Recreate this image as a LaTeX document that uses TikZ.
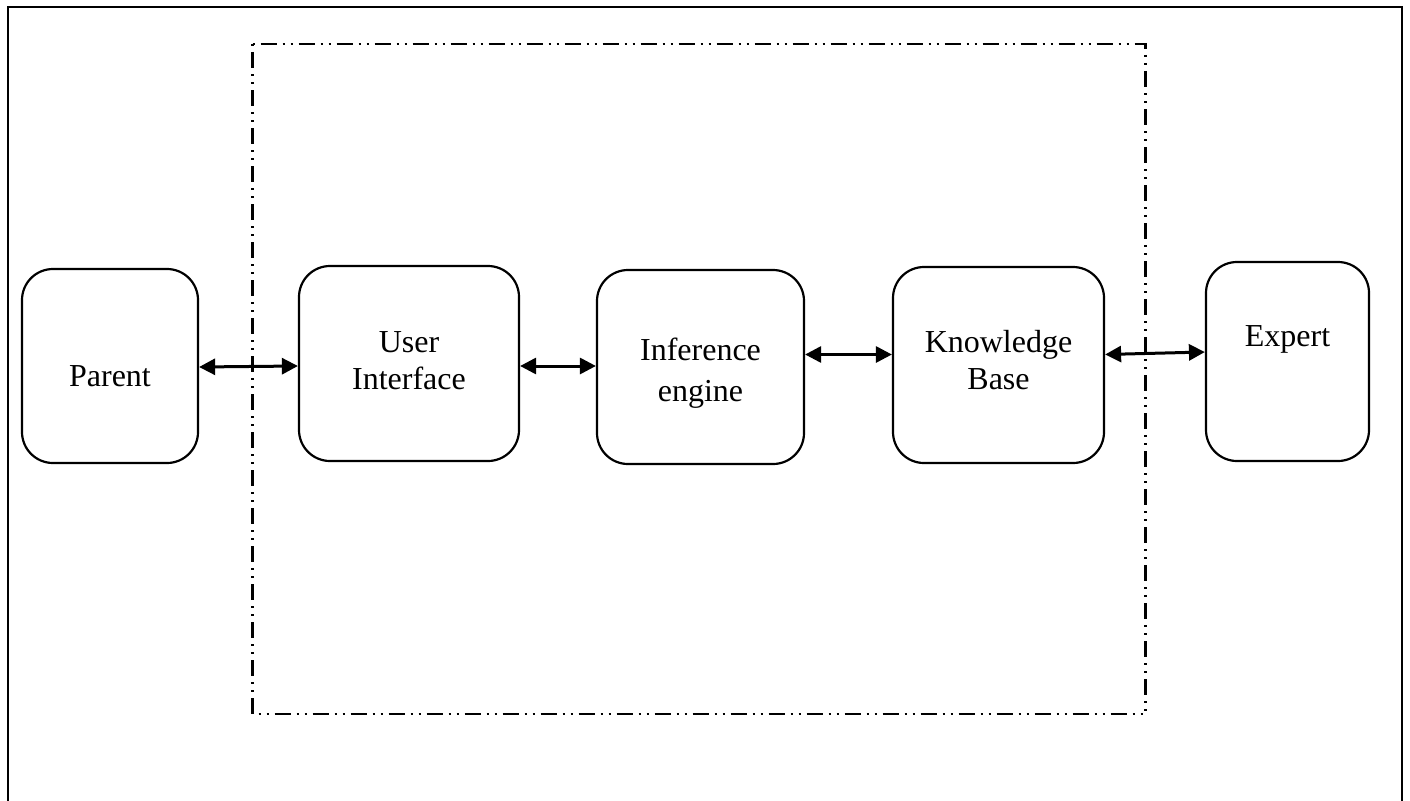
\documentclass[tikz,border=0pt]{standalone}
\usepackage{fontspec}
\setmainfont{Liberation Serif}
\usetikzlibrary{arrows.meta}

\tikzset{
  block/.style={draw, line width=2.2pt, rounded corners=31pt, minimum width=#1, inner sep=0pt},
  lbl/.style={font=\fontsize{32}{38}\selectfont, inner sep=0pt, anchor=base},
  link/.style={line width=3pt, {Triangle[length=16pt,width=16pt]}-{Triangle[length=16pt,width=16pt]}},
  frame/.style={line width=2pt},
  boundary/.style={line width=2.3pt, dash pattern=on 2pt off 6pt on 16pt off 6pt on 2pt off 6pt}
}

\begin{document}
\begin{tikzpicture}[x=1pt, y=-1pt]
  \useasboundingbox (0,0) rectangle (1410,800);

  % page frame (open at the bottom)
  \draw[frame] (7.5,802) -- (7.5,7.5) -- (1402,7.5) -- (1402,802);

  % system boundary
  \coordinate (bTL) at (252.5,44);
  \coordinate (bTR) at (1145.5,44);
  \coordinate (bBL) at (252.5,714);
  \coordinate (bBR) at (1145.5,714);
  \draw[boundary] (bTL) -- (bTR) -- (bBR);
  \draw[boundary] (bTL) -- (bBL) -- (bBR);

  % blocks
  \node[block=176pt, minimum height=194pt] (parent) at (110,366) {};
  \node[block=220pt, minimum height=195pt] (ui)     at (409,363.5) {};
  \node[block=207pt, minimum height=194pt] (ie)     at (700.5,367) {};
  \node[block=211pt, minimum height=196pt] (kb)     at (998.5,365) {};
  \node[block=163pt, minimum height=199pt] (expert) at (1287.5,361.5) {};

  % labels
  \node[lbl] (parentT) at (110,386.5) {Parent};
  \node[lbl] (uiT1) at (409,352) {User};
  \node[lbl] (uiT2) at (409,389) {Interface};
  \node[lbl] (ieT1) at (700.5,360.5) {Inference};
  \node[lbl] (ieT2) at (700.5,401.5) {engine};
  \node[lbl] (kbT1) at (998.5,352) {Knowledge};
  \node[lbl] (kbT2) at (998.5,389) {Base};
  \node[lbl] (expertT) at (1287.5,346) {Expert};

  % connectors
  \draw[link] (parent.east |- 0,367) -- (ui.west |- 0,366);
  \draw[link] (ui.east |- 0,366) -- (ie.west |- 0,366);
  \draw[link] (ie.east |- 0,354.5) -- (kb.west |- 0,354.5);
  \draw[link] (kb.east |- 0,354.5) -- (expert.west |- 0,352);
\end{tikzpicture}
\end{document}
